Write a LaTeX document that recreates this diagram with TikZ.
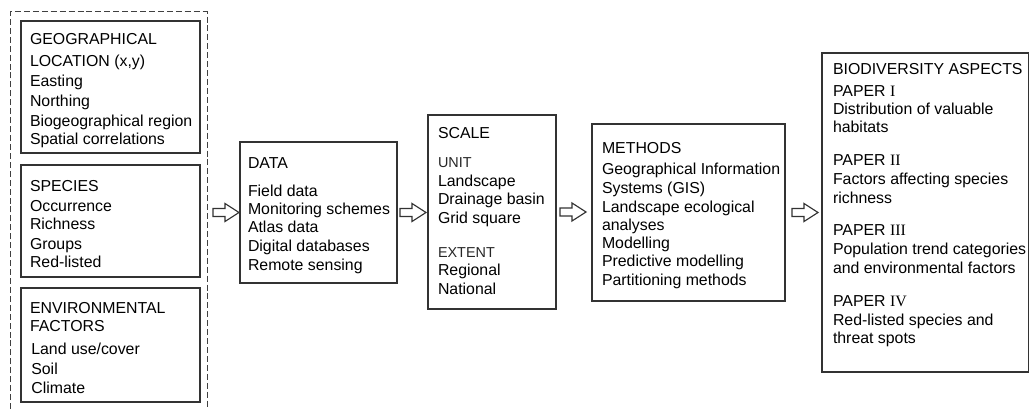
\documentclass[tikz,border=0pt]{standalone}
\usepackage{fontspec}
\setmainfont{Liberation Sans}
\newfontfamily\numfont{Liberation Serif}
\usetikzlibrary{fit,calc}

% hollow block arrow from a tail coordinate to a tip coordinate
\newcommand\hollowarrow[2]{%
  \draw[arrowline] ($(#1)+(0,-4)$) -- ($(#2)+(-14,-4)$) -- ($(#2)+(-14,-9)$)
    -- (#2) -- ($(#2)+(-14,9)$) -- ($(#2)+(-14,4)$) -- ($(#1)+(0,4)$) -- cycle;}
\newcommand\sublabel[1]{{\fontsize{10.8}{13.7}\selectfont\color{black!85}#1}}
\newcommand\paper[1]{PAPER {\numfont #1}}

\begin{document}
\begin{tikzpicture}[x=0.75pt,y=-0.75pt,
  box/.style={draw=black!80,line width=1pt,inner sep=0pt,outer sep=0pt},
  txt/.style={inner sep=0pt,outer sep=0pt,anchor=base west,text=black,
    font=\fontsize{11.9}{13.7}\selectfont},
  groupline/.style={draw=black!75,line width=0.75pt,dash pattern=on 4.5pt off 2.2pt},
  arrowline/.style={draw=black!80,line width=0.85pt,fill=white,line join=miter}]
\useasboundingbox (0,0) rectangle (1030,409);

% input group (dashed frame, open at the bottom)
\coordinate (obl) at (10,409);
\coordinate (otl) at (10,12);
\coordinate (otr) at (207,12);
\coordinate (obr) at (207,409);
\draw[groupline] (obl) -- (otl) -- (otr) -- (obr);

% boxes
\node[box,fit={(21,21) (200,153)}] (geo) {};
\node[box,fit={(21,165) (200,277)}] (species) {};
\node[box,fit={(21,288) (200,402)}] (env) {};
\node[box,fit={(240,142) (397,283)}] (data) {};
\node[box,fit={(428,115) (556,309)}] (scale) {};
\node[box,fit={(592,124) (785,301)}] (methods) {};
\node[box,fit={(822,53) (1028.4,372)}] (bio) {};

% box contents
\node[txt] (geotext) at (30,44.4) {\begin{tabular}[t]{@{}l@{}}
GEOGRAPHICAL\\[2.8pt]
LOCATION (x,y)\\[1.3pt]
Easting\\[1.3pt]
Northing\\[1.3pt]
Biogeographical region\\
Spatial correlations
\end{tabular}};

\node[txt] (speciestext) at (30,191.4) {\begin{tabular}[t]{@{}l@{}}
SPECIES\\[1.3pt]
Occurrence\\
Richness\\[1pt]
Groups\\
Red-listed
\end{tabular}};

\node[txt] (envtext) at (30,313.4) {\begin{tabular}[t]{@{}l@{}}
ENVIRONMENTAL\\
FACTORS\\[3.5pt]
\hspace{1pt}Land use/cover\\[1pt]
\hspace{1pt}Soil\\[0.5pt]
\hspace{1pt}Climate
\end{tabular}};

\node[txt] (datatext) at (248,168.4) {\begin{tabular}[t]{@{}l@{}}
DATA\\[7.3pt]
Field data\\
Monitoring schemes\\
Atlas data\\
Digital databases\\[0.5pt]
Remote sensing
\end{tabular}};

\node[txt] (scaletext) at (438,138.4) {\begin{tabular}[t]{@{}l@{}}
SCALE\\[7.8pt]
\sublabel{UNIT}\\[0.7pt]
Landscape\\
Drainage basin\\[0.5pt]
Grid square\\[11.5pt]
\sublabel{EXTENT}\\
Regional\\[0.5pt]
National
\end{tabular}};

\node[txt] (methodstext) at (602,153.4) {\begin{tabular}[t]{@{}l@{}}
METHODS\\[2pt]
Geographical Information\\[0.5pt]
Systems (GIS)\\[0.5pt]
Landscape ecological\\
analyses\\
Modelling\\
Predictive modelling\\
Partitioning methods
\end{tabular}};

\node[txt] (biotext) at (833,74.4) {\begin{tabular}[t]{@{}l@{}}
BIODIVERSITY ASPECTS\\[2.8pt]
\paper{I}\\
Distribution of valuable\\
habitats\\[11pt]
\paper{II}\\[0.5pt]
Factors affecting species\\
richness\\[11pt]
\paper{III}\\[0.5pt]
Population trend categories\\
and environmental factors\\[11pt]
\paper{IV}\\[0.5pt]
Red-listed species and\\
threat spots
\end{tabular}};

% flow arrows
\coordinate (a1s) at ($(otr |- data.west)+(6,0)$);
\coordinate (a1e) at ($(a1s)+(26,0)$);
\coordinate (a2s) at ($(data.east)+(3,0)$);
\coordinate (a2e) at ($(a2s)+(26,0)$);
\coordinate (a3s) at ($(scale.east)+(4,0)$);
\coordinate (a3e) at ($(a3s)+(26,0)$);
\coordinate (a4s) at ($(methods.east)+(7,0)$);
\coordinate (a4e) at ($(a4s)+(26,0)$);
\hollowarrow{a1s}{a1e}
\hollowarrow{a2s}{a2e}
\hollowarrow{a3s}{a3e}
\hollowarrow{a4s}{a4e}
\end{tikzpicture}
\end{document}
